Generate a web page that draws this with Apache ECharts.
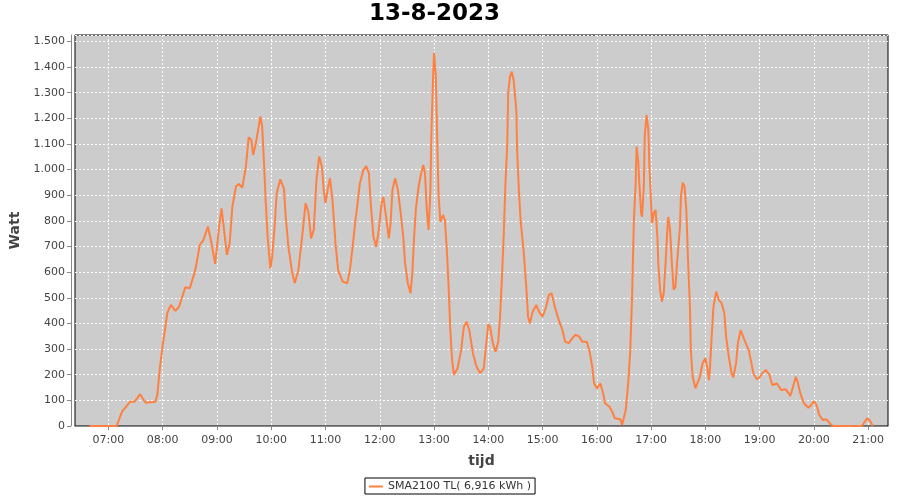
<!DOCTYPE html>
<html>
<head>
<meta charset="utf-8">
<script src="https://cdn.jsdelivr.net/npm/echarts@6/dist/echarts.min.js"></script>
<style>html,body{margin:0;padding:0;background:#fff;}#c{width:900px;height:500px;}</style>
</head>
<body>
<div id="c"></div>
<script>
const title = '13-8-2023';
const seriesName = 'SMA2100 TL( 6,916 kWh )';
const xTickLabels = ['07:00','08:00','09:00','10:00','11:00','12:00','13:00','14:00','15:00','16:00','17:00','18:00','19:00','20:00','21:00'];
const times = ['06:39','07:09','07:15','07:24','07:29','07:35','07:41','07:52','07:54','07:57','08:00','08:03','08:05','08:09','08:14','08:18','08:25','08:30','08:36','08:41','08:45','08:50','08:54','08:58','09:02','09:05','09:07','09:11','09:14','09:17','09:21','09:24','09:28','09:32','09:35','09:38','09:40','09:43','09:48','09:50','09:52','09:54','09:56','09:59','10:01','10:04','10:06','10:10','10:14','10:16','10:19','10:23','10:26','10:30','10:35','10:38','10:41','10:44','10:47','10:50','10:53','10:56','10:58','11:00','11:03','11:05','11:08','11:11','11:14','11:19','11:24','11:27','11:30','11:33','11:35','11:38','11:42','11:45','11:48','11:50','11:53','11:56','11:59','12:02','12:04','12:07','12:10','12:12','12:14','12:17','12:20','12:23','12:26','12:28','12:31','12:34','12:36','12:38','12:40','12:43','12:45','12:48','12:50','12:52','12:54','12:56','12:57','12:59','13:00','13:02','13:03','13:04','13:05','13:07','13:10','13:12','13:14','13:16','13:18','13:20','13:22','13:26','13:30','13:33','13:36','13:39','13:43','13:47','13:51','13:55','13:57','14:00','14:02','14:05','14:08','14:11','14:13','14:15','14:17','14:19','14:21','14:22','14:24','14:26','14:28','14:31','14:32','14:34','14:36','14:39','14:42','14:44','14:46','14:49','14:53','14:56','15:00','15:04','15:07','15:10','15:14','15:18','15:22','15:25','15:29','15:32','15:36','15:40','15:44','15:49','15:52','15:55','15:57','16:00','16:04','16:07','16:09','16:14','16:17','16:20','16:26','16:28','16:30','16:32','16:35','16:37','16:39','16:41','16:43','16:44','16:46','16:47','16:49','16:50','16:52','16:53','16:55','16:57','16:58','17:00','17:01','17:03','17:05','17:07','17:08','17:10','17:12','17:14','17:16','17:18','17:19','17:21','17:23','17:25','17:27','17:29','17:32','17:33','17:35','17:37','17:39','17:41','17:43','17:44','17:46','17:49','17:51','17:54','17:57','18:00','18:02','18:04','18:05','18:07','18:09','18:12','18:15','18:18','18:21','18:23','18:26','18:29','18:31','18:34','18:36','18:39','18:41','18:44','18:48','18:51','18:53','18:57','19:00','19:03','19:07','19:11','19:14','19:19','19:24','19:29','19:34','19:37','19:40','19:42','19:45','19:49','19:54','19:57','20:00','20:03','20:06','20:10','20:14','20:17','20:21','20:53','20:59','21:02','21:05'];
const watts = [0,0,56,95,95,124,91,95,121,231,316,387,440,472,449,465,541,537,608,706,725,778,712,632,765,849,791,667,713,855,934,944,930,1012,1126,1116,1057,1103,1207,1168,1025,869,738,615,660,791,908,962,927,816,699,602,557,608,765,869,836,732,765,960,1051,1012,921,869,934,966,869,713,608,563,557,608,700,800,855,947,999,1014,986,869,738,699,765,869,894,816,732,791,921,966,921,836,738,635,557,518,596,738,849,934,973,1018,986,843,765,921,1129,1363,1456,1363,1207,1051,901,797,823,804,699,557,374,257,199,225,296,387,407,374,284,231,206,225,296,397,387,323,290,329,426,570,738,947,1103,1298,1363,1382,1350,1233,1064,908,791,687,543,426,400,446,472,446,426,465,511,518,459,413,374,329,323,338,355,351,329,329,290,231,166,147,166,128,89,75,56,30,26,4,10,62,179,296,504,804,947,1090,1025,947,830,816,934,1129,1213,1155,1025,869,791,830,843,738,635,531,485,518,635,765,816,765,635,531,543,648,778,894,949,934,843,635,465,296,192,147,153,192,245,264,231,179,218,348,465,524,491,479,440,348,270,206,190,245,323,374,368,329,296,245,206,182,190,206,218,199,160,166,140,143,117,153,192,173,128,89,71,82,97,82,43,23,26,13,0,0,30,21,0];

const toMin = s => { const p = s.split(':'); return (+p[0]) * 60 + (+p[1]); };
const seriesData = times.map((t, i) => [toMin(t), watts[i]]);
const hourTicks = xTickLabels.map(toMin);
const pad = n => String(n).padStart(2, '0');
const fmtTime = v => pad(Math.floor(v / 60)) + ':' + pad(v % 60);
const fmtWatt = v => {
  if (v % 100 !== 0) return '';
  return v >= 1000 ? Math.floor(v / 1000) + '.' + String(v % 1000).padStart(3, '0') : String(v);
};

const chart = echarts.init(document.getElementById('c'), null, {renderer: 'canvas'});
chart.setOption({
  animation: false,
  backgroundColor: '#ffffff',
  title: {
    text: title, left: 369, top: 0, padding: [3, 0, 0, 0],
    textStyle: {fontFamily: 'DejaVu Sans', fontWeight: 'bold', fontSize: 23, color: '#000'}
  },
  legend: {
    data: [seriesName], left: 'center', top: 478,
    borderColor: '#000', borderWidth: 1, padding: [3, 4, 2, 4],
    icon: 'rect', itemWidth: 14, itemHeight: 2, itemGap: 4,
    textStyle: {fontFamily: 'DejaVu Sans', fontSize: 11, color: '#333'}
  },
  grid: {
    left: 75, right: 12, top: 35, bottom: 74,
    show: true, backgroundColor: '#cccccc', borderColor: '#000', borderWidth: 1
  },
  xAxis: {
    type: 'value', min: 383, max: 1282, offset: 4,
    name: 'tijd', nameLocation: 'middle', nameGap: 24,
    nameTextStyle: {fontFamily: 'DejaVu Sans', fontWeight: 'bold', fontSize: 14, color: '#444'},
    axisLine: {show: true, lineStyle: {color: '#888', width: 1}},
    axisTick: {show: true, length: 4, customValues: hourTicks, lineStyle: {color: '#888'}},
    axisLabel: {customValues: hourTicks, formatter: fmtTime, margin: 5,
      fontFamily: 'DejaVu Sans', fontSize: 11, color: '#444'},
    splitLine: {show: true, lineStyle: {color: '#ffffff', type: [2, 2], width: 1}}
  },
  yAxis: {
    type: 'value', min: 0, max: 1525, interval: 100, offset: 4,
    name: 'Watt', nameLocation: 'middle', nameGap: 37,
    nameTextStyle: {fontFamily: 'DejaVu Sans', fontWeight: 'bold', fontSize: 14, color: '#444'},
    axisLine: {show: true, lineStyle: {color: '#888', width: 1}},
    axisTick: {show: true, length: 4, lineStyle: {color: '#888'}},
    axisLabel: {formatter: fmtWatt, showMaxLabel: false, margin: 6,
      fontFamily: 'DejaVu Sans', fontSize: 11, color: '#444'},
    splitLine: {show: true, lineStyle: {color: '#ffffff', type: [2, 2], width: 1}}
  },
  series: [{
    name: seriesName, type: 'line', data: seriesData,
    showSymbol: false, symbol: 'none', smooth: false,
    lineStyle: {color: '#ff8040', width: 2}, itemStyle: {color: '#ff8040'},
    clip: true
  }]
});
</script>
</body>
</html>
